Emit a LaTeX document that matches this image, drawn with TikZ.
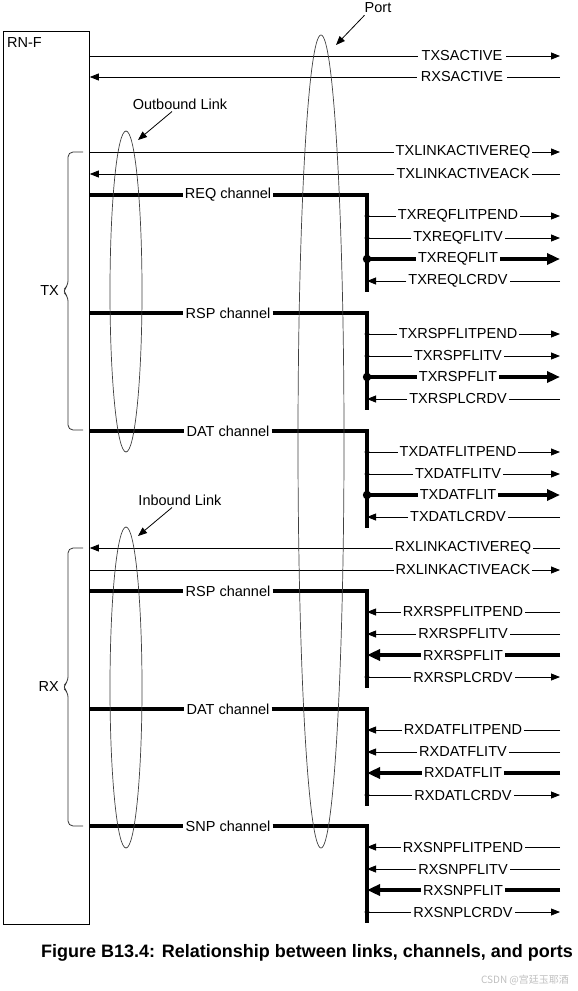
\documentclass[tikz,border=0pt]{standalone}
\usepackage{fontspec}
\setmainfont{Liberation Sans}
\newfontfamily\cjkfont{Noto Sans CJK SC}
\usetikzlibrary{arrows.meta,shapes.geometric,positioning}

\begin{document}
\begin{tikzpicture}[x=1pt,y=-1pt]
\tikzset{sig/.style={font=\fontsize{14.5}{17}\selectfont, inner sep=2pt, fill=white},
  thin/.style={line width=0.8pt},
  fat/.style={line width=3.3pt},
  tipthin/.style={-{Triangle[length=9pt,width=7pt]}},
  tipfat/.style={-{Triangle[length=13pt,width=11pt]}},
  loop/.style={draw=black!75, line width=0.7pt, ellipse, inner sep=0pt}}
\useasboundingbox (0,0) rectangle (578,991);
\coordinate (edge) at (560,0);
% the RN-F block
\node[draw, thin, anchor=north west, minimum width=86, minimum height=893, inner sep=0pt] (rnf) at (3,31) {};
\node[sig, fill=none, anchor=north west] (rnflbl) at ([xshift=2pt,yshift=-4pt]rnf.north west) {RN-F};

% port-level wires
\node[sig, inner sep=4pt] (txsact) at (462,56) {TXSACTIVE};
\node[sig, inner sep=4pt] (rxsact) at (462,77) {RXSACTIVE};
\draw[thin] (rnf.east |- txsact) -- (txsact.west);
\draw[thin,tipthin] (txsact.east) -- (edge |- txsact);
\draw[thin] (edge |- rxsact) -- (rxsact.east);
\draw[thin,tipthin] (rxsact.west) -- (rnf.east |- rxsact);

\node[sig] (txlreq) at (463,152) {TXLINKACTIVEREQ};
\node[sig] (txlack) at (463,174) {TXLINKACTIVEACK};
\draw[thin] (rnf.east |- txlreq) -- (txlreq.west);
\draw[thin,tipthin] (txlreq.east) -- (edge |- txlreq);
\draw[thin] (edge |- txlack) -- (txlack.east);
\draw[thin,tipthin] (txlack.west) -- (rnf.east |- txlack);

\node[sig] (rxlreq) at (463,548) {RXLINKACTIVEREQ};
\node[sig] (rxlack) at (463,570) {RXLINKACTIVEACK};
\draw[thin] (edge |- rxlreq) -- (rxlreq.east);
\draw[thin,tipthin] (rxlreq.west) -- (rnf.east |- rxlreq);
\draw[thin] (rnf.east |- rxlack) -- (rxlack.west);
\draw[thin,tipthin] (rxlack.east) -- (edge |- rxlack);

% outbound channels
\foreach \n/\y in {REQ/195,RSP/313,DAT/431}{
  \node[sig] (tx\n) at (228,\y) {\n\ channel};
  \coordinate (tx\n bot) at (367,\y+97);
  \draw[fat] (rnf.east |- tx\n) -- (tx\n.west);
  \draw[fat] (tx\n.east) -| (tx\n bot);
  \node[sig] (tx\n pend) at (458,\y+21) {TX\n FLITPEND};
  \node[sig] (tx\n v) at (458,\y+43) {TX\n FLITV};
  \node[sig] (tx\n flit) at (458,\y+64) {TX\n FLIT};
  \node[sig] (tx\n crd) at (458,\y+86) {TX\n LCRDV};
  \draw[thin] (tx\n bot |- tx\n pend) -- (tx\n pend.west);
  \draw[thin,tipthin] (tx\n pend.east) -- (edge |- tx\n pend);
  \draw[thin] (tx\n bot |- tx\n v) -- (tx\n v.west);
  \draw[thin,tipthin] (tx\n v.east) -- (edge |- tx\n v);
  \draw[fat] (tx\n bot |- tx\n flit) -- (tx\n flit.west);
  \draw[fat,tipfat] (tx\n flit.east) -- (edge |- tx\n flit);
  \draw[thin] (edge |- tx\n crd) -- (tx\n crd.east);
  \draw[thin,tipthin] (tx\n crd.west) -- (tx\n bot |- tx\n crd);
  \fill (tx\n bot |- tx\n pend) circle (2.4pt);
  \fill (tx\n bot |- tx\n v) circle (2.4pt);
  \fill (tx\n bot |- tx\n flit) circle (4.2pt);
}

% inbound channels
\foreach \n/\y in {RSP/591,DAT/709,SNP/826}{
  \node[sig] (rx\n) at (228,\y) {\n\ channel};
  \coordinate (rx\n bot) at (367,\y+97);
  \draw[fat] (rnf.east |- rx\n) -- (rx\n.west);
  \draw[fat] (rx\n.east) -| (rx\n bot);
  \node[sig] (rx\n pend) at (463,\y+21) {RX\n FLITPEND};
  \node[sig] (rx\n v) at (463,\y+43) {RX\n FLITV};
  \node[sig] (rx\n flit) at (463,\y+64) {RX\n FLIT};
  \node[sig] (rx\n crd) at (463,\y+86) {RX\n LCRDV};
  \draw[thin] (edge |- rx\n pend) -- (rx\n pend.east);
  \draw[thin,tipthin] (rx\n pend.west) -- (rx\n bot |- rx\n pend);
  \draw[thin] (edge |- rx\n v) -- (rx\n v.east);
  \draw[thin,tipthin] (rx\n v.west) -- (rx\n bot |- rx\n v);
  \draw[fat] (edge |- rx\n flit) -- (rx\n flit.east);
  \draw[fat,tipfat] (rx\n flit.west) -- (rx\n bot |- rx\n flit);
  \draw[thin] (rx\n bot |- rx\n crd) -- (rx\n crd.west);
  \draw[thin,tipthin] (rx\n crd.east) -- (edge |- rx\n crd);
  \fill (rx\n bot |- rx\n crd) circle (2.4pt);
}

% links and port
\node[loop, minimum width=32, minimum height=321] (outlink) at (126,291.5) {};
\node[loop, minimum width=32, minimum height=321] (inlink) at (126,687.5) {};
\node[loop, minimum width=46, minimum height=813] (port) at (321,441.5) {};
\node[sig, fill=none] (outlbl) at (180,104) {Outbound Link};
\node[sig, fill=none] (inlbl) at (180,500) {Inbound Link};
\node[sig, fill=none] (portlbl) at (378,8) {Port};
\coordinate (outtip) at (138,140);
\coordinate (intip) at (138,536);
\coordinate (porttip) at (336,45);
\draw[thin,tipthin] ([xshift=-8pt]outlbl.south) -- (outtip);
\draw[thin,tipthin] ([xshift=-8pt]inlbl.south) -- (intip);
\draw[thin,tipthin] ([xshift=2pt]portlbl.south west) -- (porttip);

% TX / RX braces
\draw[thin, black!80, rounded corners=5pt] (83,152) -- (68,152) -- (68,286) -- (62,291) -- (68,296) -- (68,430) -- (83,430);
\draw[thin, black!80, rounded corners=5pt] (83,548) -- (68,548) -- (68,682) -- (62,687) -- (68,692) -- (68,826) -- (83,826);
\node[sig, fill=none, anchor=east] (txlbl) at (61,291) {TX};
\node[sig, fill=none, anchor=east] (rxlbl) at (61,687) {RX};

\node[font=\bfseries\fontsize{18}{21}\selectfont] (caption) at (307,953) {Figure B13.4: Relationship between links, channels, and ports};
\node[font=\cjkfont\fontsize{10}{12}\selectfont, text=black!25] (mark) at (525,980) {CSDN @宫廷玉耶酒};
\end{tikzpicture}
\end{document}
